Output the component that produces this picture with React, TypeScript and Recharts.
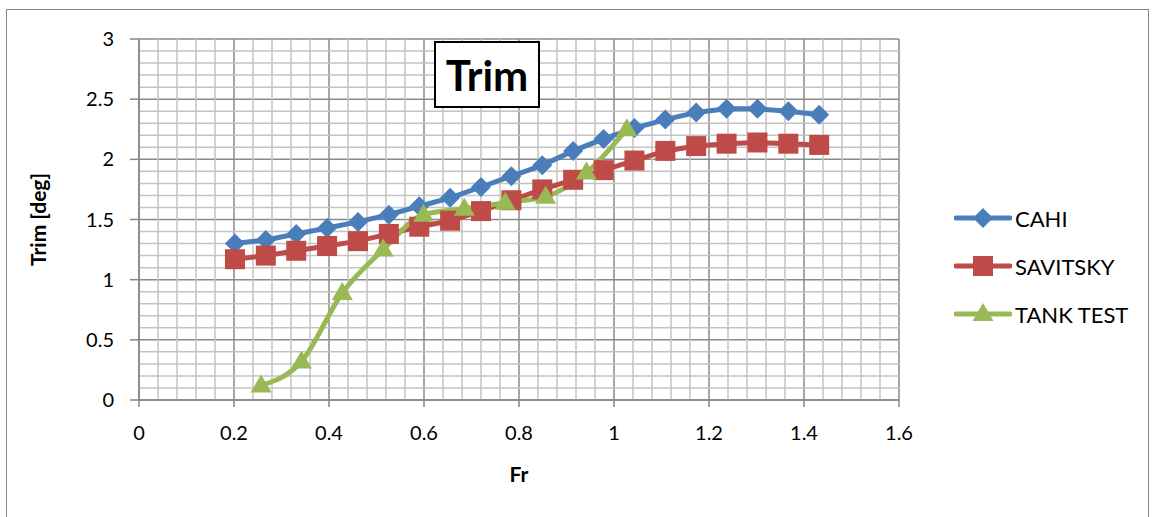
import React from "react";
import {
  LineChart,
  Line,
  XAxis,
  YAxis,
  CartesianGrid,
  ReferenceLine,
} from "recharts";

// Froude numbers
const frCalc = [
  0.202, 0.267, 0.331, 0.396, 0.461, 0.526, 0.59, 0.655, 0.72, 0.784, 0.849,
  0.914, 0.978, 1.043, 1.108, 1.173, 1.237, 1.302, 1.367, 1.432,
];
const cahi = [
  1.3, 1.33, 1.38, 1.43, 1.48, 1.54, 1.61, 1.68, 1.77, 1.86, 1.95, 2.07, 2.17,
  2.26, 2.33, 2.39, 2.42, 2.42, 2.4, 2.37,
];
const savitsky = [
  1.17, 1.2, 1.24, 1.28, 1.32, 1.38, 1.44, 1.49, 1.57, 1.66, 1.75, 1.83, 1.91,
  1.99, 2.07, 2.11, 2.13, 2.14, 2.13, 2.12,
];
const frTank = [0.257, 0.342, 0.428, 0.514, 0.599, 0.685, 0.771, 0.856, 0.942, 1.027];
const tankTest = [0.12, 0.32, 0.89, 1.25, 1.54, 1.59, 1.64, 1.69, 1.89, 2.25];

const xTicks = [0, 0.2, 0.4, 0.6, 0.8, 1, 1.2, 1.4, 1.6];
const yTicks = [0, 0.5, 1, 1.5, 2, 2.5, 3];
const xMinor = [
  0.04, 0.08, 0.12, 0.16, 0.24, 0.28, 0.32, 0.36, 0.44, 0.48, 0.52, 0.56, 0.64,
  0.68, 0.72, 0.76, 0.84, 0.88, 0.92, 0.96, 1.04, 1.08, 1.12, 1.16, 1.24, 1.28,
  1.32, 1.36, 1.44, 1.48, 1.52, 1.56,
];
const yMinor = [
  0.1, 0.2, 0.3, 0.4, 0.6, 0.7, 0.8, 0.9, 1.1, 1.2, 1.3, 1.4, 1.6, 1.7, 1.8,
  1.9, 2.1, 2.2, 2.3, 2.4, 2.6, 2.7, 2.8, 2.9,
];

const cahiData = frCalc.map((fr, i) => ({ fr, trim: cahi[i] }));
const savData = frCalc.map((fr, i) => ({ fr, trim: savitsky[i] }));
const tankData = frTank.map((fr, i) => ({ fr, trim: tankTest[i] }));

const BLUE = "#4a7ebb";
const RED = "#be4b48";
const GREEN = "#98b954";
const FONT = "Lato, 'Open Sans', sans-serif";

function Diamond({ cx, cy, fill }: any) {
  if (cx == null || cy == null) return null;
  return <path d={`M${cx} ${cy - 10}L${cx + 10} ${cy}L${cx} ${cy + 10}L${cx - 10} ${cy}Z`} fill={fill} />;
}
function Square({ cx, cy, fill }: any) {
  if (cx == null || cy == null) return null;
  return <rect x={cx - 10} y={cy - 10} width={20} height={20} fill={fill} />;
}
function Triangle({ cx, cy, fill }: any) {
  if (cx == null || cy == null) return null;
  return <path d={`M${cx} ${cy - 11}L${cx + 10.5} ${cy + 7}L${cx - 10.5} ${cy + 7}Z`} fill={fill} />;
}

const series = [
  { name: "CAHI", color: BLUE, Marker: Diamond },
  { name: "SAVITSKY", color: RED, Marker: Square },
  { name: "TANK TEST", color: GREEN, Marker: Triangle },
];

function LegendBox() {
  return (
    <div style={{ position: "absolute", left: 954, top: 194, fontFamily: FONT, fontSize: 22, color: "#000" }}>
      {series.map((s) => (
        <div key={s.name} style={{ display: "flex", alignItems: "center", height: 48 }}>
          <svg width={58} height={24}>
            <line x1={2} y1={12} x2={56} y2={12} stroke={s.color} strokeWidth={5} strokeLinecap="round" />
            <s.Marker cx={29} cy={12} fill={s.color} />
          </svg>
          <span style={{ marginLeft: 3 }}>{s.name}</span>
        </div>
      ))}
    </div>
  );
}

function YLabel({ viewBox }: any) {
  const cx = 37;
  const cy = viewBox.y + viewBox.height / 2;
  return (
    <text
      x={cx}
      y={cy}
      transform={`rotate(-90 ${cx} ${cy})`}
      textAnchor="middle"
      dominantBaseline="central"
      fontFamily={FONT}
      fontWeight="bold"
      fontSize={21}
      fill="#000"
    >
      Trim [deg]
    </text>
  );
}

export default function App() {
  const tick = { fill: "#000", fontSize: 20, fontFamily: FONT };
  return (
    <div style={{ position: "absolute", left: 0, top: 0, width: 1155, height: 517, background: "#fff", overflow: "hidden" }}>
      <div
        style={{
          position: "absolute",
          left: 6,
          top: 9,
          width: 1143,
          height: 520,
          border: "1.5px solid #868686",
          boxSizing: "border-box",
        }}
      />
      <div style={{ position: "absolute", left: 0, top: 0 }}>
        <LineChart width={1155} height={517} margin={{ top: 39, right: 256, bottom: 0, left: 0 }}>
          {xMinor.map((v) => (
            <ReferenceLine key={"x" + v} x={v} stroke="#c3c3c3" strokeWidth={1.5} zIndex={-50} />
          ))}
          {yMinor.map((v) => (
            <ReferenceLine key={"y" + v} y={v} stroke="#c3c3c3" strokeWidth={1.5} zIndex={-50} />
          ))}
          <CartesianGrid stroke="#8a8a8a" strokeWidth={1.5} />
          <XAxis
            type="number"
            dataKey="fr"
            domain={[0, 1.6]}
            ticks={xTicks}
            height={117}
            tick={tick}
            tickSize={7}
            tickMargin={19}
            stroke="#868686"
            strokeWidth={1.5}
            allowDataOverflow
            label={{ value: "Fr", position: "insideBottom", offset: 35, fill: "#000", fontSize: 21, fontWeight: "bold", fontFamily: FONT }}
          />
          <YAxis
            type="number"
            domain={[0, 3]}
            ticks={yTicks}
            width={139}
            tick={tick}
            tickSize={9}
            tickMargin={16}
            stroke="#868686"
            strokeWidth={1.5}
            label={<YLabel />}
          />
          <Line
            data={cahiData}
            dataKey="trim"
            name="CAHI"
            stroke={BLUE}
            strokeWidth={5}
            type="linear"
            dot={(p: any) => <Diamond key={"c" + p.index} cx={p.cx} cy={p.cy} fill={BLUE} />}
            isAnimationActive={false}
          />
          <Line
            data={savData}
            dataKey="trim"
            name="SAVITSKY"
            stroke={RED}
            strokeWidth={5}
            type="linear"
            dot={(p: any) => <Square key={"s" + p.index} cx={p.cx} cy={p.cy} fill={RED} />}
            isAnimationActive={false}
          />
          <Line
            data={tankData}
            dataKey="trim"
            name="TANK TEST"
            stroke={GREEN}
            strokeWidth={5}
            type="monotone"
            dot={(p: any) => <Triangle key={"t" + p.index} cx={p.cx} cy={p.cy} fill={GREEN} />}
            isAnimationActive={false}
          />
        </LineChart>
      </div>
      <LegendBox />
      <div
        style={{
          position: "absolute",
          left: 434,
          top: 41,
          width: 106,
          height: 67,
          border: "2px solid #000",
          boxSizing: "border-box",
          background: "#fff",
          display: "flex",
          alignItems: "center",
          justifyContent: "center",
          fontFamily: FONT,
          fontWeight: "bold",
          fontSize: 42,
          color: "#000",
        }}
      >
        Trim
      </div>
    </div>
  );
}
